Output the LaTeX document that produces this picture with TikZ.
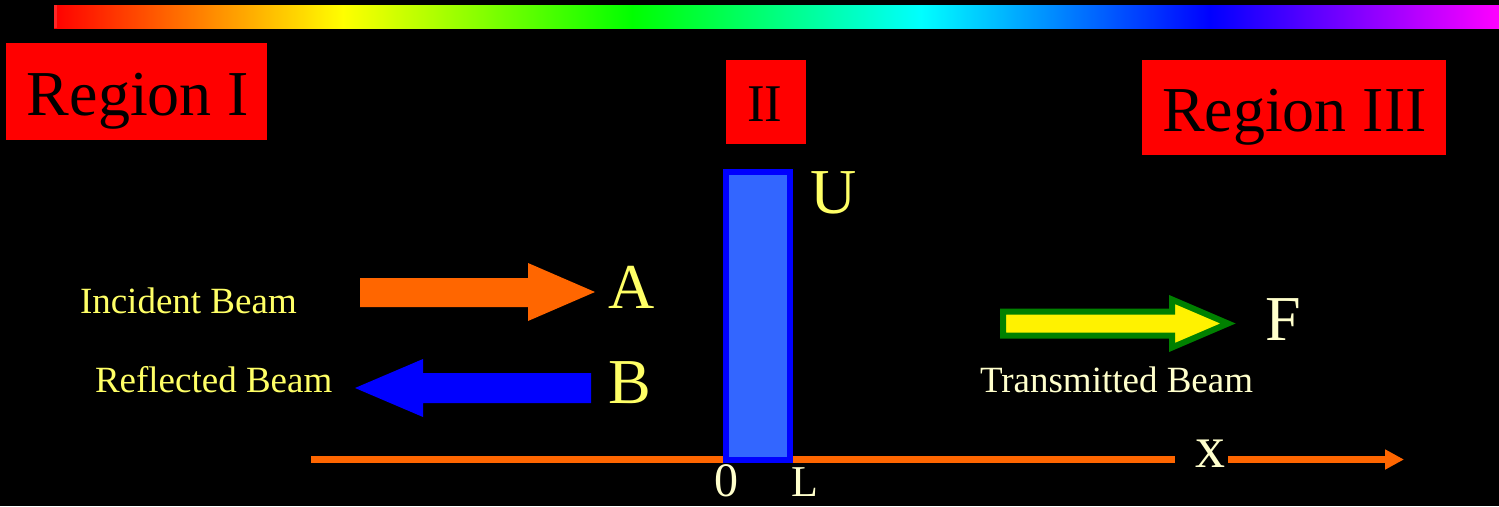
\documentclass[tikz,border=0pt]{standalone}
\usepackage{fontspec}
\setmainfont{Liberation Serif}
\usetikzlibrary{arrows.meta}
\definecolor{beamorange}{HTML}{FF6600}
\definecolor{labyellow}{HTML}{FFFF66}
\definecolor{labcream}{HTML}{FFFFCC}
\definecolor{barfill}{HTML}{3366FF}
\definecolor{tgreen}{HTML}{008000}
\begin{document}
\begin{tikzpicture}[x=1pt,y=-1pt,
  lbl/.style={anchor=base west,inner sep=0pt,outer sep=0pt},
  regionbox/.style={fill=red,draw=none},
  regiontext/.style={lbl,text=black,font=\fontsize{64}{64}\selectfont},
  bigletter/.style={lbl,text=labyellow,font=\fontsize{64}{64}\selectfont},
  creamletter/.style={lbl,text=labcream,font=\fontsize{64}{64}\selectfont},
  beamtext/.style={lbl,font=\fontsize{37}{37}\selectfont},
  axisline/.style={draw=beamorange,line width=7pt}]
\useasboundingbox (0,0) rectangle (1499,506);
\fill[black] (0,0) rectangle (1499,506);
% rainbow bar
\shade[left color=red,right color=yellow] (54,5) rectangle (343.5,28);
\shade[left color=yellow,right color=green] (343,5) rectangle (632.5,28);
\shade[left color=green,right color=cyan] (632,5) rectangle (921.5,28);
\shade[left color=cyan,right color=blue] (921,5) rectangle (1210.5,28);
\shade[left color=blue,right color=magenta] (1210,5) rectangle (1499,28);
\fill[red!85!white] (54,5) rectangle (57,28);
% region boxes
\fill[regionbox] (6,43) rectangle (267,140);
\node[regiontext] (r1) at (27,115) {Region I};
\fill[regionbox] (726,60) rectangle (806,144);
\node[lbl,text=black,font=\fontsize{53}{53}\selectfont] (r2) at (747,121) {II};
\fill[regionbox] (1142,60) rectangle (1446,155);
\node[regiontext] (r3) at (1162,131) {Region III};
% axis
\coordinate (ax0) at (311,459.5);
\coordinate (ax1) at (1175,459.5);
\coordinate (ax2) at (1228,459.5);
\coordinate (ax3) at (1404,459.5);
\draw[axisline] (ax0) -- (ax1);
\draw[axisline,-{Triangle[length=19pt,width=19pt]}] (ax2) -- (ax3);
\node[lbl,text=labcream,font=\fontsize{60}{60}\selectfont] (xl) at (1195,467) {x};
% barrier
\draw[draw=blue,fill=barfill,line width=6pt] (726,172) rectangle (790,460);
\node[bigletter] (U) at (810,213) {U};
\node[lbl,text=labcream,font=\fontsize{48}{48}\selectfont] (z) at (714,496) {0};
\node[lbl,text=labcream,font=\fontsize{44}{44}\selectfont] (L) at (791,496) {L};
% incident beam
\fill[beamorange] (360,278) -- (528,278) -- (528,263) -- (595,292) -- (528,321) -- (528,307) -- (360,307) -- cycle;
\node[bigletter] (A) at (608,308) {A};
\node[beamtext,text=labyellow] (inc) at (80,313) {Incident Beam};
% reflected beam
\fill[blue] (591,373) -- (423,373) -- (423,359) -- (355,388) -- (423,417) -- (423,403) -- (591,403) -- cycle;
\node[bigletter] (B) at (608,403) {B};
\node[beamtext,text=labyellow] (ref) at (95,392) {Reflected Beam};
% transmitted beam
\draw[draw=tgreen,fill=yellow,line width=6pt,miter limit=20] (1003,311.5) -- (1172,311.5) -- (1172,299.5) -- (1228,323.5) -- (1172,347.5) -- (1172,335.5) -- (1003,335.5) -- cycle;
\node[creamletter] (F) at (1265,340) {F};
\node[beamtext,text=labcream] (tr) at (980,392) {Transmitted Beam};
\end{tikzpicture}
\end{document}
